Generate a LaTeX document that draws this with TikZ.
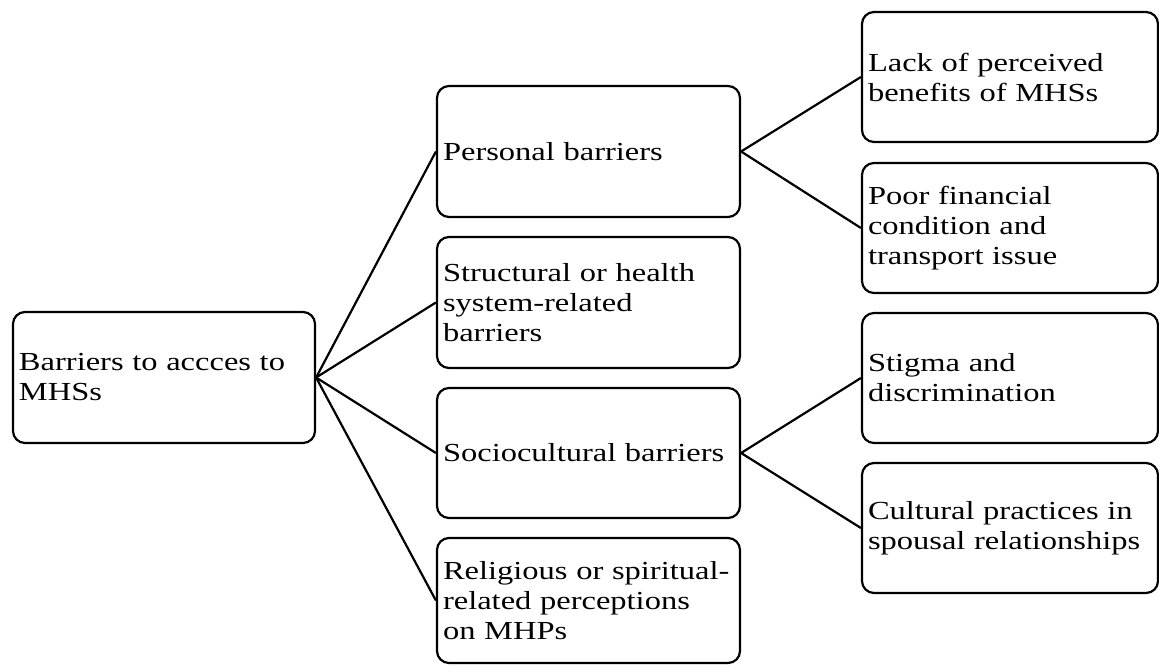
\documentclass[tikz,border=0pt]{standalone}
\usepackage{fontspec}
\setmainfont[FakeStretch=1.25]{Liberation Serif}
\tikzset{
  box/.style={draw, line width=2.2pt, rounded corners=12pt, inner xsep=6pt, inner ysep=0pt,
    align=left, font=\fontsize{26}{30}\selectfont},
  rootbox/.style={box, minimum width=302pt, minimum height=131pt, text width=290pt},
  midbox/.style={box, minimum width=303pt, text width=291pt},
  rightbox/.style={box, minimum width=296pt, minimum height=130pt, text width=284pt},
  link/.style={line width=2.2pt}
}
\begin{document}
\begin{tikzpicture}[x=1pt,y=-1pt]
\path[use as bounding box] (0,0) rectangle (1159,666);
\node[rootbox] (root) at (164,377.5) {Barriers to accces to\\MHSs};
\node[midbox, minimum height=131pt] (pers) at (588.5,151.5) {Personal barriers};
\node[midbox, minimum height=131pt] (struct) at (588.5,302.5) {Structural or health\\system-related\\barriers};
\node[midbox, minimum height=130pt] (socio) at (588.5,453) {Sociocultural barriers};
\node[midbox, minimum height=125pt] (relig) at (588.5,600.5) {Religious or spiritual-\\related perceptions\\on MHPs};
\node[rightbox] (lack) at (1010,77) {Lack of perceived\\benefits of MHSs};
\node[rightbox] (poor) at (1010,228) {Poor financial\\condition and\\transport issue};
\node[rightbox] (stigma) at (1010,378) {Stigma and\\discrimination};
\node[rightbox] (cult) at (1010,528) {Cultural practices in\\spousal relationships};
\draw[link] (root.east) -- (pers.west);
\draw[link] (root.east) -- (struct.west);
\draw[link] (root.east) -- (socio.west);
\draw[link] (root.east) -- (relig.west);
\draw[link] (pers.east) -- (lack.west);
\draw[link] (pers.east) -- (poor.west);
\draw[link] (socio.east) -- (stigma.west);
\draw[link] (socio.east) -- (cult.west);
\end{tikzpicture}
\end{document}
